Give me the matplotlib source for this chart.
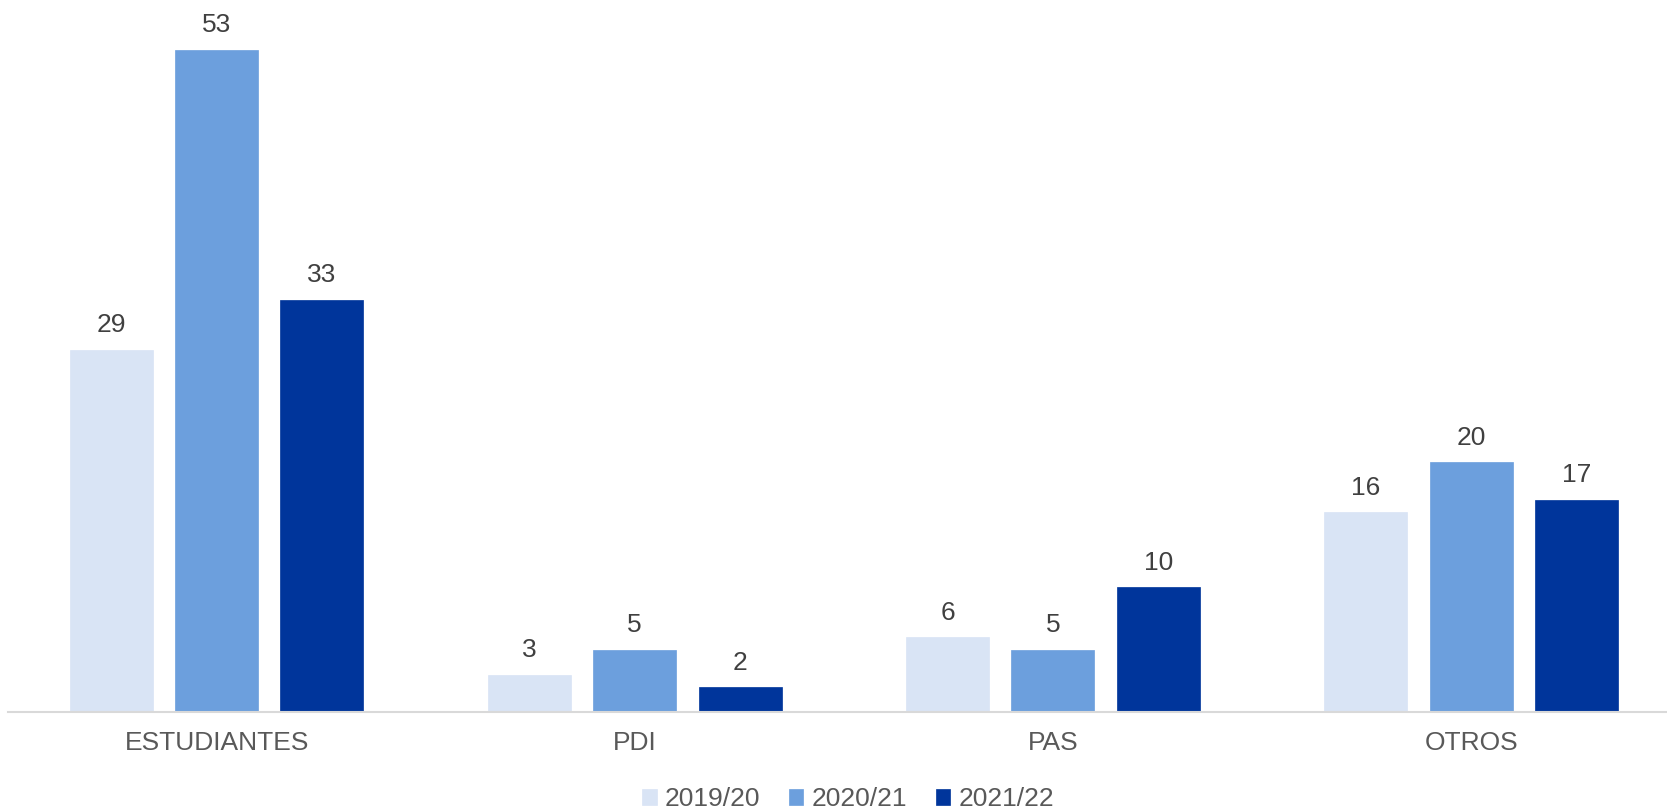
import matplotlib
matplotlib.use("Agg")
import matplotlib.pyplot as plt
import numpy as np

plt.rcParams['font.family'] = ['Liberation Sans', 'DejaVu Sans']

categories = ["ESTUDIANTES", "PDI", "PAS", "OTROS"]
series_names = ["2019/20", "2020/21", "2021/22"]
v2019 = [29, 3, 6, 16]
v2020 = [53, 5, 5, 20]
v2021 = [33, 2, 10, 17]
colors = ["#D9E4F5", "#6C9FDD", "#00359B"]

fig = plt.figure(figsize=(16.67, 8.11), dpi=100)
ax = fig.add_axes([7.5 / 1667, 99 / 811, 1 - 7.5 / 1667, 1 - 99 / 811 - 10 / 811])

x = np.arange(len(categories))
width = 0.1985
step = 0.252
for i, (vals, name, col) in enumerate(zip([v2019, v2020, v2021], series_names, colors)):
    bars = ax.bar(x + (i - 1) * step, vals, width, color=col, label=name,
                  edgecolor=col, linewidth=0.5)
    for b, v in zip(bars, vals):
        ax.annotate(str(v), (b.get_x() + b.get_width() / 2, v),
                    xytext=(0, 9), textcoords="offset points",
                    ha="center", va="bottom", fontsize=19, color="#404040")

ax.set_xlim(-0.5, (1667 - 216.5) / 418.2)
ax.set_ylim(0, 56.2)
ax.set_xticks(x)
ax.set_xticklabels(categories, fontsize=19, color="#595959")
ax.tick_params(axis="x", length=0, pad=14)
ax.set_yticks([])
for s in ["top", "right", "left"]:
    ax.spines[s].set_visible(False)
ax.spines["bottom"].set_color("#D9D9D9")
ax.spines["bottom"].set_linewidth(1.5)

leg = fig.legend(loc="center", bbox_to_anchor=(848 / 1667, 12 / 811), ncol=3,
                 frameon=False, fontsize=19, handlelength=0.55, handleheight=0.55,
                 handletextpad=0.3, columnspacing=1.1, labelcolor="#595959",
                 borderaxespad=0, borderpad=0)

fig.savefig("out.png", dpi=100)
